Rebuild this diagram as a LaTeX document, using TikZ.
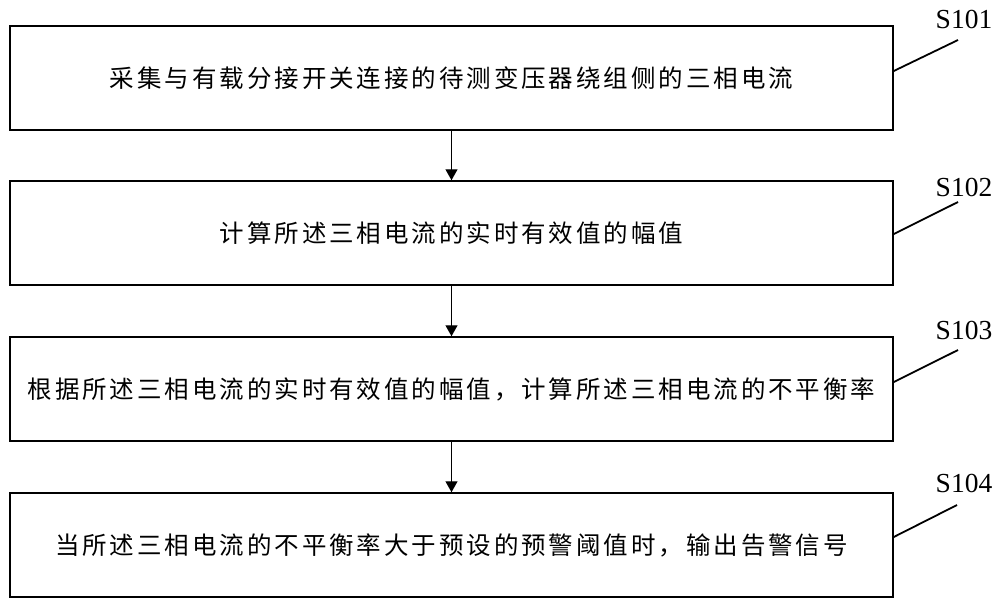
\documentclass[tikz,border=0pt]{standalone}
\usepackage{fontspec}
\setmainfont{Liberation Serif}
\newfontfamily\cjk[LetterSpace=12]{Noto Sans CJK SC}
\usetikzlibrary{arrows.meta}
\tikzset{
  stepbox/.style={draw=black, line width=1.5pt, minimum width=883pt, minimum height=104pt, inner sep=0pt,
    font=\cjk\fontsize{24.5pt}{28pt}\selectfont},
  steplabel/.style={font=\fontsize{27.5pt}{30pt}\selectfont, inner sep=0pt},
  flow/.style={line width=1.3pt, -{Triangle[width=12pt,length=11pt]}},
  lead/.style={line width=1.8pt}
}
\begin{document}
\begin{tikzpicture}[x=1pt,y=-1pt]
\useasboundingbox (0,0) rectangle (1000,605);
\node[stepbox] (b1) at (451.5,78) {采集与有载分接开关连接的待测变压器绕组侧的三相电流};
\node[stepbox] (b2) at (451.5,233) {计算所述三相电流的实时有效值的幅值};
\node[stepbox] (b3) at (451.5,389) {根据所述三相电流的实时有效值的幅值，计算所述三相电流的不平衡率};
\node[stepbox] (b4) at (451.5,545) {当所述三相电流的不平衡率大于预设的预警阈值时，输出告警信号};
\draw[flow] (b1) -- (b2);
\draw[flow] (b2) -- (b3);
\draw[flow] (b3) -- (b4);
\node[steplabel] (l1) at (964,19) {S101};
\node[steplabel] (l2) at (964,187) {S102};
\node[steplabel] (l3) at (964,330) {S103};
\node[steplabel] (l4) at (964,483) {S104};
\coordinate (c1) at (958,40);
\coordinate (c2) at (958,202);
\coordinate (c3) at (958,350);
\coordinate (c4) at (957,505);
\draw[lead] ([yshift=7pt]b1.east) -- (c1);
\draw[lead] ([yshift=-1pt]b2.east) -- (c2);
\draw[lead] ([yshift=7pt]b3.east) -- (c3);
\draw[lead] ([yshift=8pt]b4.east) -- (c4);
\end{tikzpicture}
\end{document}
